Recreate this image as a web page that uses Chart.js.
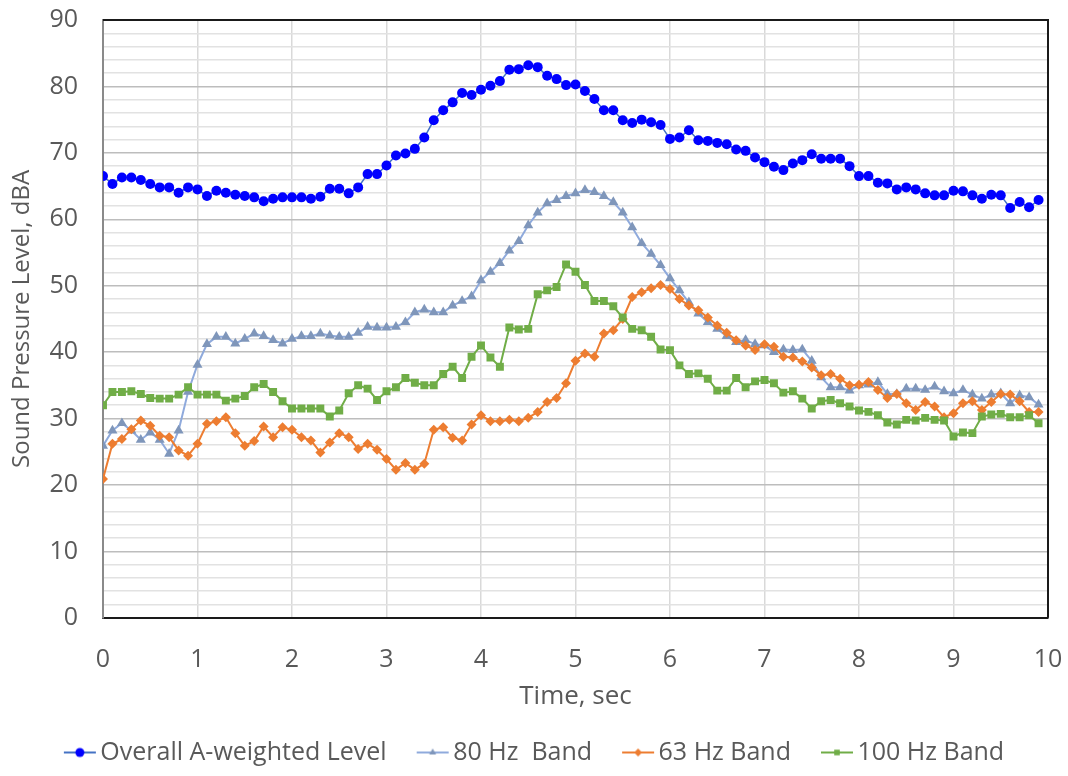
<!DOCTYPE html>
<html>
<head>
<meta charset="utf-8">
<script src="https://cdn.jsdelivr.net/npm/chart.js@4"></script>
<style>
  html, body { margin: 0; padding: 0; background: #fff; }
  #wrap { width: 1068px; height: 776px; }
</style>
</head>
<body>
<div id="wrap"><canvas id="chart" width="1068" height="776"></canvas></div>
<script>
const times = [0, 0.1, 0.2, 0.3, 0.4, 0.5, 0.6, 0.7, 0.8, 0.9,
  1, 1.1, 1.2, 1.3, 1.4, 1.5, 1.6, 1.7, 1.8, 1.9,
  2, 2.1, 2.2, 2.3, 2.4, 2.5, 2.6, 2.7, 2.8, 2.9,
  3, 3.1, 3.2, 3.3, 3.4, 3.5, 3.6, 3.7, 3.8, 3.9,
  4, 4.1, 4.2, 4.3, 4.4, 4.5, 4.6, 4.7, 4.8, 4.9,
  5, 5.1, 5.2, 5.3, 5.4, 5.5, 5.6, 5.7, 5.8, 5.9,
  6, 6.1, 6.2, 6.3, 6.4, 6.5, 6.6, 6.7, 6.8, 6.9,
  7, 7.1, 7.2, 7.3, 7.4, 7.5, 7.6, 7.7, 7.8, 7.9,
  8, 8.1, 8.2, 8.3, 8.4, 8.5, 8.6, 8.7, 8.8, 8.9,
  9, 9.1, 9.2, 9.3, 9.4, 9.5, 9.6, 9.7, 9.8, 9.9];

const overall = [66.5, 65.3, 66.3, 66.3, 65.9, 65.3, 64.8, 64.8, 64.0, 64.8,
  64.5, 63.5, 64.3, 64.0, 63.7, 63.5, 63.3, 62.7, 63.1, 63.3,
  63.3, 63.3, 63.1, 63.4, 64.6, 64.6, 63.9, 64.8, 66.8, 66.8,
  68.1, 69.6, 69.9, 70.6, 72.3, 74.9, 76.4, 77.6, 79.0, 78.7,
  79.5, 80.1, 80.8, 82.5, 82.6, 83.2, 82.9, 81.6, 81.1, 80.2,
  80.3, 79.3, 78.1, 76.4, 76.4, 74.9, 74.5, 75.0, 74.6, 74.2,
  72.1, 72.3, 73.4, 71.9, 71.8, 71.5, 71.3, 70.5, 70.3, 69.3,
  68.6, 67.9, 67.4, 68.4, 68.9, 69.8, 69.1, 69.1, 69.1, 68.0,
  66.5, 66.5, 65.5, 65.4, 64.5, 64.8, 64.5, 63.9, 63.6, 63.6,
  64.3, 64.2, 63.6, 63.1, 63.7, 63.6, 61.7, 62.6, 61.8, 62.9];

const band80 = [25.9, 28.2, 29.3, 28.2, 26.8, 27.9, 26.8, 24.7, 28.2, 34.0,
  38.1, 41.2, 42.3, 42.3, 41.3, 42.0, 42.8, 42.4, 41.8, 41.3,
  42.0, 42.4, 42.4, 42.8, 42.5, 42.3, 42.3, 42.9, 43.8, 43.7,
  43.7, 43.8, 44.5, 46.0, 46.4, 46.0, 46.0, 47.0, 47.7, 48.4,
  50.8, 52.1, 53.4, 55.3, 56.7, 59.1, 61.0, 62.4, 62.9, 63.5,
  63.9, 64.4, 64.1, 63.5, 62.6, 61.0, 58.8, 56.4, 54.8, 53.1,
  51.1, 49.3, 47.5, 45.8, 44.5, 43.5, 42.4, 41.5, 41.8, 41.2,
  41.0, 40.0, 40.4, 40.3, 40.4, 38.7, 36.2, 34.7, 34.7, 34.2,
  35.0, 35.1, 35.5, 33.7, 33.7, 34.5, 34.5, 34.3, 34.8, 34.1,
  33.8, 34.3, 33.6, 33.0, 33.6, 33.8, 32.3, 33.5, 33.2, 32.1];

const band63 = [20.9, 26.2, 26.9, 28.4, 29.7, 28.9, 27.4, 27.2, 25.2, 24.4,
  26.2, 29.2, 29.6, 30.2, 27.8, 25.9, 26.6, 28.8, 27.2, 28.7,
  28.3, 27.2, 26.7, 24.9, 26.4, 27.8, 27.2, 25.4, 26.2, 25.3,
  23.9, 22.3, 23.3, 22.3, 23.2, 28.3, 28.7, 27.1, 26.7, 29.1,
  30.5, 29.6, 29.6, 29.8, 29.6, 30.1, 31.0, 32.5, 33.1, 35.3,
  38.7, 39.8, 39.3, 42.8, 43.3, 45.0, 48.3, 49.0, 49.6, 50.1,
  49.5, 48.0, 47.0, 46.3, 45.2, 44.0, 42.9, 41.8, 41.0, 40.3,
  41.2, 40.8, 39.3, 39.2, 38.6, 37.7, 36.5, 36.7, 36.0, 35.0,
  35.1, 35.5, 34.3, 33.1, 33.7, 32.3, 31.3, 32.5, 31.8, 30.2,
  30.8, 32.3, 32.6, 31.3, 32.5, 33.7, 33.6, 32.6, 31.0, 31.0];

const band100 = [32.0, 34.0, 34.0, 34.1, 33.7, 33.1, 33.0, 33.0, 33.6, 34.7,
  33.6, 33.6, 33.6, 32.7, 33.0, 33.4, 34.7, 35.2, 34.0, 32.6,
  31.5, 31.5, 31.5, 31.5, 30.3, 31.2, 33.8, 35.0, 34.5, 32.8,
  34.1, 34.7, 36.1, 35.4, 35.0, 35.0, 36.7, 37.8, 36.1, 39.3,
  41.0, 39.2, 37.8, 43.7, 43.4, 43.5, 48.7, 49.3, 49.8, 53.2,
  52.1, 50.1, 47.7, 47.7, 46.9, 45.2, 43.5, 43.3, 42.3, 40.4,
  40.3, 38.0, 36.7, 36.8, 36.0, 34.2, 34.2, 36.1, 34.7, 35.6,
  35.8, 35.3, 33.9, 34.1, 33.0, 31.5, 32.6, 32.8, 32.3, 31.8,
  31.2, 31.0, 30.5, 29.4, 29.1, 29.8, 29.7, 30.1, 29.8, 29.7,
  27.3, 27.9, 27.8, 30.3, 30.6, 30.7, 30.2, 30.2, 30.5, 29.3];

const seriesNames = ['Overall A-weighted Level', '80 Hz  Band', '63 Hz Band', '100 Hz Band'];
const xTicks = [0, 1, 2, 3, 4, 5, 6, 7, 8, 9, 10];

const FONT = "'Open Sans', 'Noto Sans', sans-serif";
const TEXT = '#595959';

function pts(vals) {
  return vals.map((v, i) => ({ x: times[i], y: v }));
}

// legend swatch: a short line with the marker on it, pushed to the right
// end of the box so it sits just before the text
function swatch(lineColor, markColor, style, r) {
  const c = document.createElement('canvas');
  c.width = 64; c.height = 16;
  const g = c.getContext('2d');
  const cx = 46, cy = 8;
  g.strokeStyle = lineColor; g.lineWidth = 2;
  g.beginPath(); g.moveTo(30, cy); g.lineTo(62, cy); g.stroke();
  g.fillStyle = markColor;
  g.beginPath();
  if (style === 'circle') g.arc(cx, cy, r, 0, Math.PI * 2);
  else if (style === 'triangle') { g.moveTo(cx, cy - r); g.lineTo(cx + r * 0.87, cy + r * 0.5); g.lineTo(cx - r * 0.87, cy + r * 0.5); g.closePath(); }
  else if (style === 'rectRot') { g.moveTo(cx, cy - r); g.lineTo(cx + r, cy); g.lineTo(cx, cy + r); g.lineTo(cx - r, cy); g.closePath(); }
  else g.rect(cx - r * 0.7, cy - r * 0.7, r * 1.4, r * 1.4);
  g.fill();
  return c;
}

const frame = {
  id: 'frame',
  afterDraw(chart) {
    const { ctx, chartArea: a } = chart;
    ctx.save();
    ctx.strokeStyle = '#1a1a1a';
    ctx.lineWidth = 2;
    ctx.beginPath();
    ctx.moveTo(a.left, a.top); ctx.lineTo(a.right, a.top); ctx.lineTo(a.right, a.bottom);
    ctx.stroke();
    ctx.restore();
  }
};

const styles = [
  { line: '#4472C4', mark: '#0000FF', ps: 'circle', r: 5, lw: 1.5 },
  { line: '#8FAADC', mark: '#7F96BA', ps: 'triangle', r: 5.8, lw: 2 },
  { line: '#ED7D31', mark: '#ED7D31', ps: 'rectRot', r: 5, lw: 2 },
  { line: '#70AD47', mark: '#70AD47', ps: 'rect', r: 5.6, lw: 2 }
];
const values = [overall, band80, band63, band100];

const datasets = values.map((v, k) => ({
  label: seriesNames[k],
  data: pts(v),
  borderColor: styles[k].line,
  borderWidth: styles[k].lw,
  backgroundColor: styles[k].mark,
  pointBackgroundColor: styles[k].mark,
  pointBorderColor: styles[k].mark,
  pointBorderWidth: 0,
  pointStyle: styles[k].ps,
  pointRadius: styles[k].r,
  tension: 0,
  order: 4 - k
}));

new Chart(document.getElementById('chart'), {
  type: 'line',
  data: { datasets },
  plugins: [frame],
  options: {
    responsive: false,
    animation: false,
    layout: { padding: { top: 20, right: 20, left: 0, bottom: 1 } },
    plugins: {
      tooltip: { enabled: false },
      legend: {
        position: 'bottom',
        labels: {
          font: { family: FONT, size: 25 },
          color: TEXT,
          usePointStyle: true,
          pointStyleWidth: 44,
          padding: 10,
          generateLabels: () => seriesNames.map((name, k) => ({
            text: name,
            datasetIndex: k,
            fontColor: TEXT,
            pointStyle: swatch(styles[k].line, styles[k].mark, styles[k].ps, styles[k].ps === 'circle' ? 4.5 : 4),
            lineWidth: 0,
            hidden: false
          }))
        }
      }
    },
    scales: {
      x: {
        type: 'linear',
        min: 0, max: 10,
        afterBuildTicks: (s) => { s.ticks = xTicks.map(v => ({ value: v })); },
        ticks: { font: { family: FONT, size: 25 }, color: TEXT, padding: 0 },
        grid: { color: '#d9d9d9', lineWidth: 1.5, drawTicks: true, tickLength: 27, tickColor: 'rgba(0,0,0,0)' },
        border: { color: '#1a1a1a', width: 2 },
        title: { display: true, text: 'Time, sec', font: { family: FONT, size: 26 }, color: TEXT, padding: { top: 6, bottom: 18 } }
      },
      y: {
        min: 0, max: 90,
        ticks: {
          stepSize: 2,
          autoSkip: false,
          font: { family: FONT, size: 25 },
          color: TEXT,
          padding: 0,
          callback: (v) => (v % 10 === 0 ? String(v) : '')
        },
        grid: {
          drawTicks: true,
          tickLength: 25,
          tickColor: 'rgba(0,0,0,0)',
          lineWidth: 1.5,
          color: (c) => (c.tick && c.tick.value % 10 === 0 ? '#bdbdbd' : '#e2e2e2')
        },
        border: { color: '#8a8a8a', width: 2 },
        title: { display: true, text: 'Sound Pressure Level, dBA', font: { family: FONT, size: 24 }, color: TEXT, padding: { top: 8, bottom: 0 } },
        afterFit: (s) => { s.width = 103; }
      }
    }
  }
});
</script>
</body>
</html>
